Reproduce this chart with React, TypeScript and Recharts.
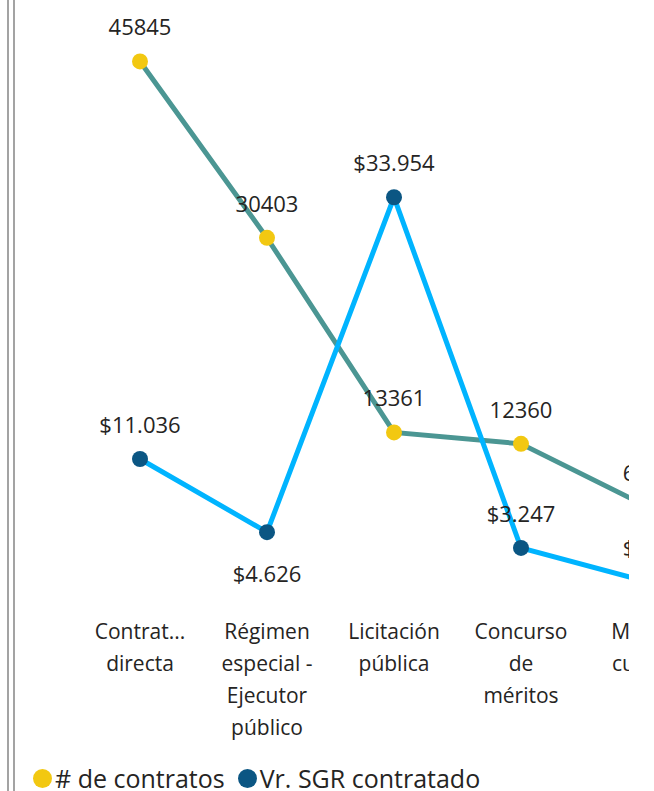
import { LineChart, Line, XAxis, YAxis, LabelList } from "recharts";

const FONT = "'Open Sans', 'Noto Sans', sans-serif";
const TEXT = "#252423";

const categories = [
  "Contratación directa",
  "Régimen especial - Ejecutor público",
  "Licitación pública",
  "Concurso de méritos",
  "Mínima cuantía",
];
const tickLines = [
  ["Contrat...", "directa"],
  ["Régimen", "especial -", "Ejecutor", "público"],
  ["Licitación", "pública"],
  ["Concurso", "de", "méritos"],
  ["Mínima", "cuantía"],
];
const contratos = [45845, 30403, 13361, 12360, 6840];
const vrSgr = [11036, 4626, 33954, 3247, 262];
const vrLabelBelow = [false, true, false, false, false];
const yDomain = [0, 50000];

const seriesNames = ["# de contratos", "Vr. SGR contratado"];
const lineColors = ["#4b9693", "#00b4ff"];
const dotColors = ["#f2c811", "#0b5683"];

const data = categories.map((name, i) => ({
  name,
  contratos: contratos[i],
  vr: vrSgr[i],
}));

const money = (v: number) =>
  "$" + String(Math.round(v)).replace(/\B(?=(\d{3})+(?!\d))/g, ".");

function ContratosLabel(props: any) {
  const { x, y, value } = props;
  return (
    <text x={x} y={y - 26} textAnchor="middle" fontFamily={FONT} fontSize={22} fill={TEXT}>
      {value}
    </text>
  );
}

function VrLabel(props: any) {
  const { x, y, value, index } = props;
  const below = vrLabelBelow[index];
  return (
    <text
      x={x}
      y={below ? y + 50 : y - 26}
      textAnchor="middle"
      fontFamily={FONT}
      fontSize={22}
      fill={TEXT}
    >
      {money(value)}
    </text>
  );
}

function CategoryTick(props: any) {
  const { x, y, index } = props;
  const lines = tickLines[index] ?? [];
  return (
    <text x={x} y={y + 52} textAnchor="middle" fontFamily={FONT} fontSize={21} fill={TEXT}>
      {lines.map((l, i) => (
        <tspan key={i} x={x} dy={i === 0 ? 0 : 32}>
          {l}
        </tspan>
      ))}
    </text>
  );
}

export default function App() {
  return (
    <div
      style={{
        position: "absolute",
        left: 0,
        top: 0,
        width: 654,
        height: 791,
        overflow: "hidden",
        background: "#ffffff",
      }}
    >
      {/* frame edge on the left */}
      <div style={{ position: "absolute", left: 7, top: 0, width: 2, height: 791, background: "#a3a3a3" }} />
      <div style={{ position: "absolute", left: 13, top: 0, width: 2, height: 791, background: "#a3a3a3" }} />

      {/* chart, cut off on the right like the scrolled visual */}
      <div style={{ position: "absolute", left: 0, top: 0, width: 629, height: 791, overflow: "hidden" }}>
        <LineChart
          width={740}
          height={791}
          data={data}
          margin={{ top: 14, right: 92, left: 140, bottom: 0 }}
        >
          <XAxis
            dataKey="name"
            axisLine={false}
            tickLine={false}
            tickSize={0}
            interval={0}
            height={206}
            tick={<CategoryTick />}
          />
          <YAxis hide domain={yDomain} />
          <Line
            dataKey="contratos"
            stroke={lineColors[0]}
            strokeWidth={5}
            dot={{ r: 8, fill: dotColors[0], stroke: "none" }}
            isAnimationActive={false}
          >
            <LabelList dataKey="contratos" content={<ContratosLabel />} />
          </Line>
          <Line
            dataKey="vr"
            stroke={lineColors[1]}
            strokeWidth={5}
            dot={{ r: 8, fill: dotColors[1], stroke: "none" }}
            isAnimationActive={false}
          >
            <LabelList dataKey="vr" content={<VrLabel />} />
          </Line>
        </LineChart>
      </div>

      {/* legend */}
      <div
        style={{
          position: "absolute",
          left: 33,
          top: 761,
          display: "flex",
          alignItems: "center",
          fontFamily: FONT,
          fontSize: 25,
          color: TEXT,
          whiteSpace: "nowrap",
        }}
      >
        {seriesNames.map((n, i) => (
          <div key={n} style={{ display: "flex", alignItems: "center", marginRight: 13 }}>
            <span
              style={{
                display: "inline-block",
                width: 19,
                height: 19,
                borderRadius: "50%",
                background: dotColors[i],
                marginRight: 3,
              }}
            />
            {n}
          </div>
        ))}
      </div>
    </div>
  );
}
